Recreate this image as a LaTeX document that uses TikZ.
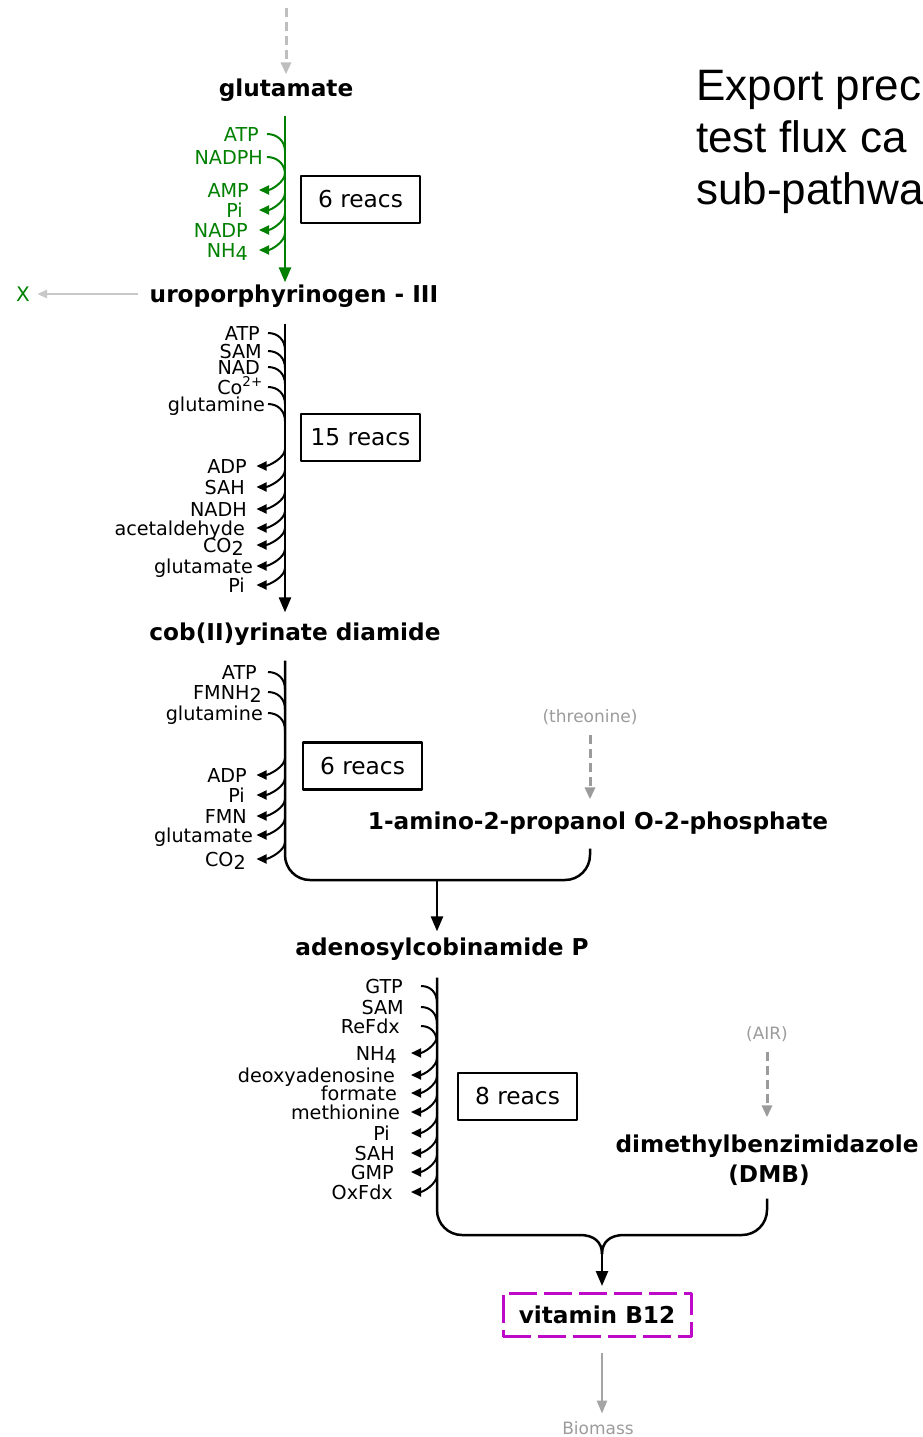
\documentclass[tikz,border=0pt]{standalone}
\usepackage{fontspec}
\setmainfont{DejaVu Sans}
\newfontfamily\notefont{Liberation Sans}
\usetikzlibrary{arrows.meta,calc}

\definecolor{flowgreen}{RGB}{0,128,0}
\definecolor{feedgray}{RGB}{155,155,155}
\definecolor{palegray}{RGB}{200,200,200}
\definecolor{topgray}{RGB}{190,190,190}
\definecolor{biogray}{RGB}{165,165,165}
\definecolor{goalmagenta}{RGB}{190,10,200}

% lowered index digit, as in CO2 or NH4
\newcommand{\dn}[1]{\raisebox{-3.5pt}{#1}}

% co-substrate entering the current step: label, then a curve into the axis
\newcommand{\intake}[4]{%
  \node[cof] (#1) at (#3,#4) {#2};
  \draw[side] (#1.east -| cin) .. controls +(10,0) and +(0,-10) .. ($(#1.east -| cax)+(0,17)$);
}
% co-product leaving the current step: curve off the axis ending in an arrow at the label
\newcommand{\outlet}[4]{%
  \node[cof] (#1) at (#3,#4) {#2};
  \draw[side,-{Triangle[length=10pt,width=9pt]}] ($(#1.east -| cax)+(0,-17)$) .. controls +(0,9) and +(12,0) .. (#1.east -| cout);
}

\begin{document}
\begin{tikzpicture}[x=1pt, y=-1pt, line join=round,
  met/.style={font=\fontsize{23.2}{28}\selectfont\bfseries, inner sep=0pt, text height=16.9pt, text depth=0pt},
  cof/.style={font=\fontsize{19.2}{22}\selectfont, inner sep=0pt, text height=14pt, text depth=0pt, anchor=east},
  extnote/.style={font=\fontsize{17}{20}\selectfont, text=feedgray, inner sep=0pt, text height=12.4pt, text depth=0pt},
  reacbox/.style={draw, line width=2.5pt, minimum width=119pt, minimum height=47pt, inner sep=0pt, font=\fontsize{23.3}{27}\selectfont},
  mainflow/.style={line width=2.5pt, -{Triangle[length=15pt,width=12pt]}},
  side/.style={line width=2pt},
  bracket/.style={line width=2.5pt},
  feed/.style={line width=3pt, dash pattern=on 9pt off 5pt, -{Triangle[length=12pt,width=10pt]}},
]
\useasboundingbox (0,0) rectangle (922,1437);
\clip (0,0) rectangle (922,1437);

% heading
\node[anchor=base west, inner sep=0pt, font=\notefont\fontsize{44}{53}\selectfont] (h1) at (696,100) {Export prec};
\node[anchor=base west, inner sep=0pt, font=\notefont\fontsize{44}{53}\selectfont] (h2) at (696,152) {test flux ca};
\node[anchor=base west, inner sep=0pt, font=\notefont\fontsize{44}{53}\selectfont] (h3) at (696,204) {sub-pathwa};

% main metabolites
\node[met] (glu) at (286,88) {glutamate};
\node[met] (uro) at (294,294) {uroporphyrinogen - III};
\node[met] (cob) at (295,632) {cob(II)yrinate diamide};
\node[met] (amp) at (598,821) {1-amino-2-propanol O-2-phosphate};
\node[met] (ado) at (442,947) {adenosylcobinamide P};
\node[met] (dmb) at (767,1144) {dimethylbenzimidazole};
\node[met] (dmbtag) at (769,1174) {(DMB)};
\node[met, draw=goalmagenta, line width=3pt, dash pattern=on 28pt off 7pt,
      minimum width=188pt, minimum height=43pt] (vitb) at (597,1315) {vitamin B12};

% external supplies and sinks
\coordinate (src) at (286,8);
\draw[feed, topgray] (src) -- ([yshift=5pt]glu.north);
\node[cof, anchor=center, flowgreen, font=\fontsize{20}{22}\selectfont] (xout) at (23,294) {X};
\draw[line width=2.5pt, palegray, -{Triangle[length=10pt,width=8pt]}] ([xshift=-12pt]uro.west) -- ([xshift=7pt]xout.east);
\node[extnote] (thr) at (590,716) {(threonine)};
\draw[feed, feedgray] ([yshift=-13pt]thr.south) -- ([yshift=13pt]thr.south |- amp.north);
\node[extnote] (air) at (767,1033) {(AIR)};
\draw[feed, feedgray] ([yshift=-13pt]air.south) -- ([yshift=18pt]air.south |- dmb.north);
\node[extnote] (bio) at (598,1428) {Biomass};

% step 1: glutamate -> uroporphyrinogen III
\begin{scope}[flowgreen]
  \coordinate (cax) at (285,0);
  \coordinate (cin) at (267,0);
  \coordinate (cout) at (259,0);
  \draw[mainflow] ([yshift=-19pt]glu.south -| cax) -- ([yshift=3pt]uro.north -| cax);
  \intake{a1}{ATP}{259}{134}
  \intake{a2}{NADPH}{263}{157}
  \outlet{a3}{AMP}{249}{190}
  \outlet{a4}{Pi}{243}{210}
  \outlet{a5}{NADP}{248}{230}
  \outlet{a6}{NH\dn{4}}{248}{250}
\end{scope}
\node[reacbox] (r1) at (360.5,199.5) {6 reacs};

% step 2: uroporphyrinogen III -> cob(II)yrinate diamide
\coordinate (cax) at (285,0);
\coordinate (cin) at (268,0);
\coordinate (cout) at (256.5,0);
\draw[mainflow] ([yshift=-21pt]uro.south -| cax) -- ([yshift=11pt]cob.north -| cax);
\intake{b1}{ATP}{260}{333}
\intake{b2}{SAM}{262}{351}
\intake{b3}{NAD}{260}{367}
\intake{b4}{Co\textsuperscript{2+}}{263}{387}
\intake{b5}{glutamine}{265}{404}
\outlet{b6}{ADP}{247}{466}
\outlet{b7}{SAH}{245}{487}
\outlet{b8}{NADH}{247}{509}
\outlet{b9}{acetaldehyde}{245}{528}
\outlet{b10}{CO\dn{2}}{244}{545}
\outlet{b11}{glutamate}{253}{566}
\outlet{b12}{Pi}{245}{585}
\node[reacbox] (r2) at (360.5,437.5) {15 reacs};

% step 3: cob(II)yrinate diamide + aminopropanol phosphate -> adenosylcobinamide P
\coordinate (camp) at (590,0);
\coordinate (j1) at (437,880);
\draw[bracket, rounded corners=25pt] ([yshift=-19pt]amp.south -| camp) -- (camp |- j1) -- (cax |- j1) -- ([yshift=-20pt]cob.south -| cax);
\draw[mainflow] (j1) -- ([yshift=7pt]ado.north -| j1);
\intake{c1}{ATP}{257}{672}
\intake{c2}{FMNH\dn{2}}{262}{692}
\intake{c3}{glutamine}{263}{713}
\outlet{c4}{ADP}{247}{775}
\outlet{c5}{Pi}{245}{795}
\outlet{c6}{FMN}{247}{816}
\outlet{c7}{glutamate}{253}{835}
\outlet{c8}{CO\dn{2}}{246}{859}
\node[reacbox] (r3) at (362.5,766) {6 reacs};

% step 4: adenosylcobinamide P + DMB -> vitamin B12
\coordinate (cax) at (437,0);
\coordinate (cin) at (421,0);
\coordinate (cout) at (411,0);
\coordinate (cdmb) at (767,0);
\coordinate (j2) at (602,1235);
\coordinate (j3) at (602,1254);
\draw[bracket, rounded corners=25pt] ([yshift=-22pt]ado.south -| cax) -- (cax |- j2) -- ([xshift=-22pt]j2);
\draw[bracket, rounded corners=25pt] ([yshift=-16pt]dmbtag.south -| cdmb) -- (cdmb |- j2) -- ([xshift=22pt]j2);
\draw[bracket] ([xshift=-22pt]j2) .. controls +(14,0) and +(0,-12) .. (j3);
\draw[bracket] ([xshift=22pt]j2) .. controls +(-14,0) and +(0,-12) .. (j3);
\draw[mainflow] (j3) -- ([yshift=6pt]vitb.north -| j3);
\intake{d1}{GTP}{403}{986}
\intake{d2}{SAM}{404}{1007}
\intake{d3}{ReFdx}{400}{1026}
\outlet{d4}{NH\dn{4}}{397}{1053}
\outlet{d5}{deoxyadenosine}{395}{1075}
\outlet{d6}{formate}{397}{1093}
\outlet{d7}{methionine}{400}{1112}
\outlet{d8}{Pi}{390}{1133}
\outlet{d9}{SAH}{395}{1153}
\outlet{d10}{GMP}{394}{1172}
\outlet{d11}{OxFdx}{393}{1192}
\node[reacbox] (r4) at (517.5,1096.5) {8 reacs};

% export to biomass
\draw[line width=2.5pt, biogray, -{Triangle[length=13pt,width=10pt]}] ([yshift=-15pt]vitb.south -| j3) -- ([yshift=8pt]bio.north -| j3);
\end{tikzpicture}
\end{document}
